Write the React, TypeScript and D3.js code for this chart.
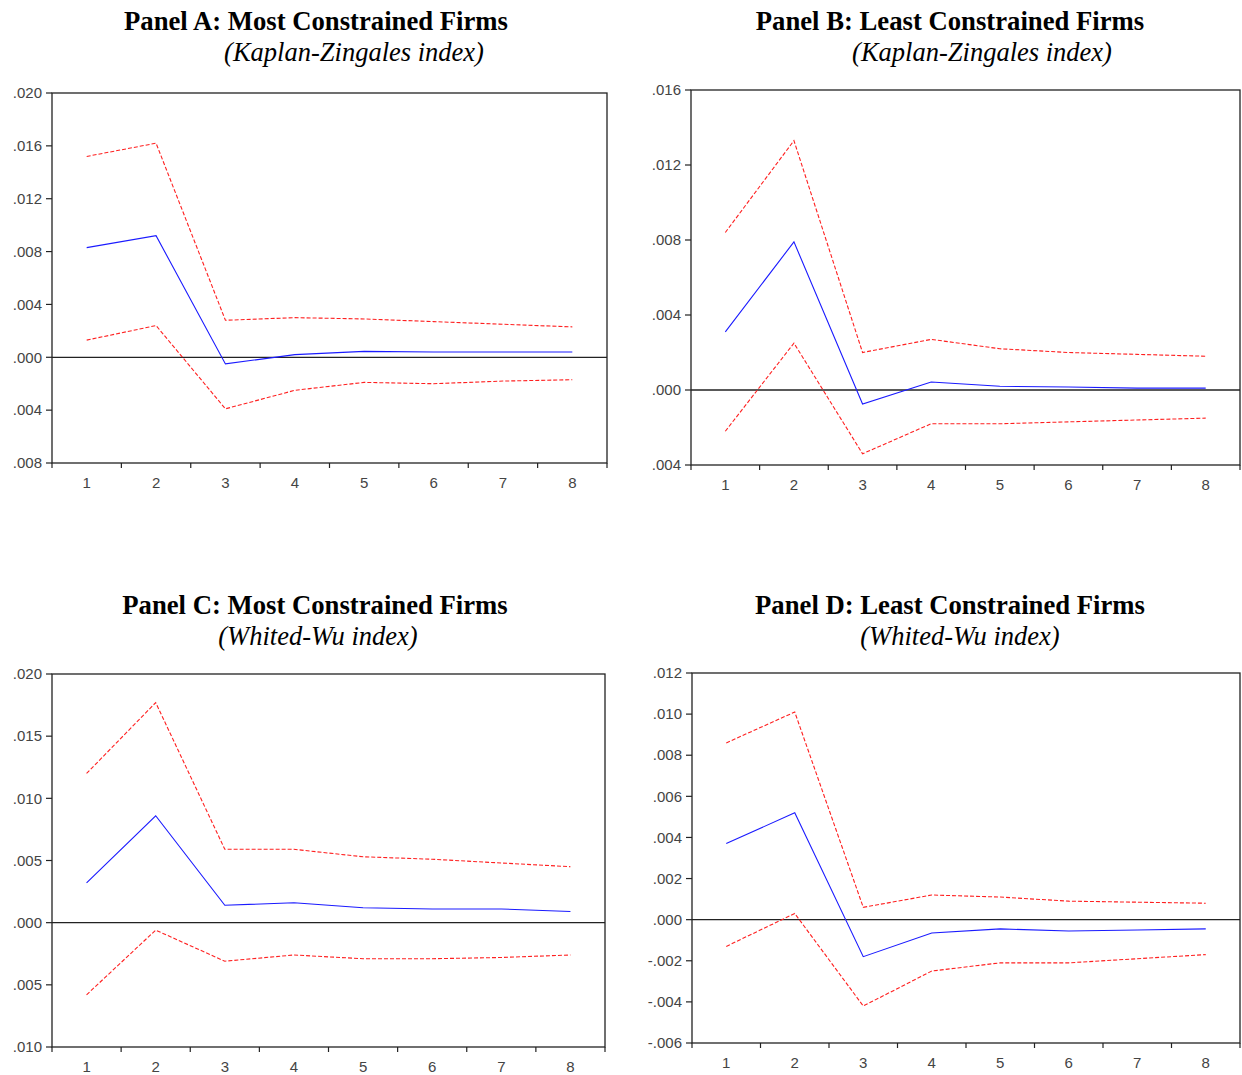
import React from 'react'
import * as d3 from 'd3'

// horizons 1..8
const periods = ['1', '2', '3', '4', '5', '6', '7', '8']

// Panel A: most constrained (KZ)
const aIrf = [0.0083, 0.0092, -0.0005, 0.0002, 0.00045, 0.0004, 0.0004, 0.0004]
const aUpper = [0.0152, 0.0162, 0.0028, 0.0030, 0.0029, 0.0027, 0.0025, 0.0023]
const aLower = [0.0013, 0.0024, -0.0039, -0.0025, -0.0019, -0.0020, -0.0018, -0.0017]
const aTicks = [0.020, 0.016, 0.012, 0.008, 0.004, 0, -0.004, -0.008]
const aTickLabels = ['.020', '.016', '.012', '.008', '.004', '.000', '.004', '.008']

// Panel B: least constrained (KZ)
const bIrf = [0.0031, 0.0079, -0.00075, 0.00043, 0.0002, 0.00016, 0.0001, 0.0001]
const bUpper = [0.0084, 0.0133, 0.0020, 0.0027, 0.0022, 0.0020, 0.0019, 0.0018]
const bLower = [-0.0022, 0.0025, -0.0034, -0.0018, -0.0018, -0.0017, -0.0016, -0.0015]
const bTicks = [0.016, 0.012, 0.008, 0.004, 0, -0.004]
const bTickLabels = ['.016', '.012', '.008', '.004', '.000', '.004']

// Panel C: most constrained (WW)
const cIrf = [0.0032, 0.0086, 0.0014, 0.0016, 0.0012, 0.0011, 0.0011, 0.0009]
const cUpper = [0.0120, 0.0177, 0.0059, 0.0059, 0.0053, 0.0051, 0.0048, 0.0045]
const cLower = [-0.0058, -0.0006, -0.0031, -0.0026, -0.0029, -0.0029, -0.0028, -0.0026]
const cTicks = [0.020, 0.015, 0.010, 0.005, 0, -0.005, -0.010]
const cTickLabels = ['.020', '.015', '.010', '.005', '.000', '.005', '.010']

// Panel D: least constrained (WW)
const dIrf = [0.0037, 0.0052, -0.0018, -0.00065, -0.00045, -0.00055, -0.0005, -0.00045]
const dUpper = [0.0086, 0.0101, 0.0006, 0.0012, 0.0011, 0.0009, 0.00085, 0.0008]
const dLower = [-0.0013, 0.0003, -0.0042, -0.0025, -0.0021, -0.0021, -0.0019, -0.0017]
const dTicks = [0.012, 0.010, 0.008, 0.006, 0.004, 0.002, 0, -0.002, -0.004, -0.006]
const dTickLabels = ['.012', '.010', '.008', '.006', '.004', '.002', '.000', '-.002', '-.004', '-.006']

type PanelProps = {
  left: number, right: number, top: number, bottom: number,
  title: string, subtitle: string, titleX: number, subX: number, titleY: number,
  irf: number[], upper: number[], lower: number[],
  ticks: number[], tickLabels: string[],
}

function Panel({left, right, top, bottom, title, subtitle, titleX, subX, titleY,
  irf, upper, lower, ticks, tickLabels}: PanelProps) {

  const x = d3.scaleBand().domain(periods).range([left, right])
  const y = d3.scaleLinear().domain([d3.min(ticks), d3.max(ticks)]).range([bottom, top])

  const line = d3.line<number>()
    .x((d, i) => x(periods[i]) + x.bandwidth() / 2)
    .y(d => y(d))

  const bounds = periods.map(p => x(p)).concat([right])

  return (
    <g>
      <text x={titleX} y={titleY} textAnchor="middle" fontFamily="'Liberation Serif', 'Times New Roman', serif"
        fontWeight="bold" fontSize="26.7">{title}</text>
      <text x={subX} y={titleY + 31} textAnchor="middle" fontFamily="'Liberation Serif', 'Times New Roman', serif"
        fontStyle="italic" fontSize="26.5">{subtitle}</text>

      <rect x={left} y={top} width={right - left} height={bottom - top} fill="none" stroke="#222" strokeWidth="1.3"/>
      <line x1={left} x2={right} y1={y(0)} y2={y(0)} stroke="#222" strokeWidth="1.3"/>

      {ticks.map((t, i) => (
        <g key={'y' + i}>
          <line x1={left - 6} x2={left} y1={y(t)} y2={y(t)} stroke="#222" strokeWidth="1.2"/>
          <text x={left - 10} y={y(t)} dy="0.35em" textAnchor="end" fill="#444"
            fontFamily="'Liberation Sans', Arial, sans-serif" fontSize="15">{tickLabels[i]}</text>
        </g>
      ))}

      {bounds.map((b, i) => (
        <line key={'xt' + i} x1={b} x2={b} y1={bottom} y2={bottom + 5} stroke="#222" strokeWidth="1.2"/>
      ))}
      {periods.map(p => (
        <text key={'xl' + p} x={x(p) + x.bandwidth() / 2} y={bottom + 20} dy="0.35em" textAnchor="middle" fill="#444"
          fontFamily="'Liberation Sans', Arial, sans-serif" fontSize="15">{p}</text>
      ))}

      <path d={line(upper)} fill="none" stroke="#ff2020" strokeWidth="1.1" strokeDasharray="4,2"/>
      <path d={line(lower)} fill="none" stroke="#ff2020" strokeWidth="1.1" strokeDasharray="4,2"/>
      <path d={line(irf)} fill="none" stroke="#1a1aff" strokeWidth="1.1"/>
    </g>
  )
}

export default function App() {
  return (
    <svg width={1242} height={1075} style={{position: 'absolute', left: 0, top: 0, background: 'white'}}>
      <Panel left={52} right={607} top={93} bottom={463}
        title="Panel A: Most Constrained Firms" subtitle="(Kaplan-Zingales index)"
        titleX={316} subX={354} titleY={30}
        irf={aIrf} upper={aUpper} lower={aLower} ticks={aTicks} tickLabels={aTickLabels}/>
      <Panel left={691} right={1240} top={90} bottom={465}
        title="Panel B: Least Constrained Firms" subtitle="(Kaplan-Zingales index)"
        titleX={950} subX={982} titleY={30}
        irf={bIrf} upper={bUpper} lower={bLower} ticks={bTicks} tickLabels={bTickLabels}/>
      <Panel left={52} right={605} top={674} bottom={1047}
        title="Panel C: Most Constrained Firms" subtitle="(Whited-Wu index)"
        titleX={315} subX={318} titleY={614}
        irf={cIrf} upper={cUpper} lower={cLower} ticks={cTicks} tickLabels={cTickLabels}/>
      <Panel left={692} right={1240} top={673} bottom={1043}
        title="Panel D: Least Constrained Firms" subtitle="(Whited-Wu index)"
        titleX={950} subX={960} titleY={614}
        irf={dIrf} upper={dUpper} lower={dLower} ticks={dTicks} tickLabels={dTickLabels}/>
    </svg>
  )
}
